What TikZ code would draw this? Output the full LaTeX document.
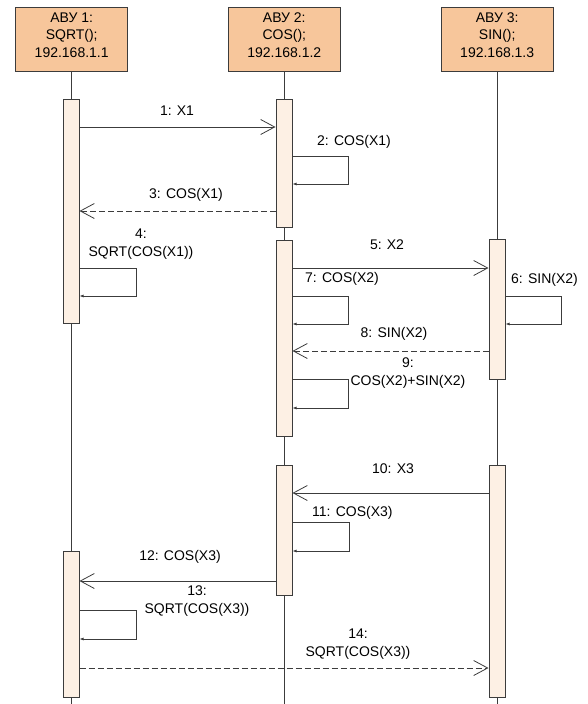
\documentclass[tikz,border=0pt]{standalone}
\usepackage{fontspec}
\setmainfont{Liberation Sans}
\usetikzlibrary{arrows.meta,positioning,calc}
\definecolor{hdrfill}{RGB}{247,198,155}
\definecolor{barfill}{RGB}{253,240,228}
\definecolor{edge}{RGB}{60,60,60}

\begin{document}
\begin{tikzpicture}[x=1pt, y=-1pt,
  font=\fontsize{14}{17.7}\selectfont,
  hdr/.style={draw=edge, line width=1pt, fill=hdrfill, minimum width=112pt, minimum height=64pt, align=center, inner sep=0pt, text depth=8pt},
  bar/.style={draw=edge, line width=1pt, fill=barfill, minimum width=16pt, anchor=north, inner sep=0pt},
  life/.style={edge, line width=0.8pt},
  msg/.style={edge, line width=1pt, -{Straight Barb[length=14pt, width=15pt, line width=0.8pt]}},
  ret/.style={msg, dash pattern=on 6pt off 3pt},
  self/.style={edge, line width=1pt, -{Latex[length=4pt, width=3pt]}},
  lbl/.style={inner sep=0pt, align=center}]
\useasboundingbox (0,0) rectangle (587,704);
% headers
\node[hdr] (h1) at (71.7,39) {АВУ 1:\\SQRT();\\192.168.1.1};
\node[hdr] (h2) at (284.3,39) {АВУ 2:\\COS();\\192.168.1.2};
\node[hdr] (h3) at (497.2,39) {АВУ 3:\\SIN();\\192.168.1.3};
% lifelines
\draw[life] (h1.south) -- (h1.south |- 0,704);
\draw[life] (h2.south) -- (h2.south |- 0,704);
\draw[life] (h3.south) -- (h3.south |- 0,704);
% activations
\node[bar, minimum height=224pt] (b1a) at (71,99) {};
\node[bar, minimum height=146pt] (b1b) at (71,551) {};
\node[bar, minimum height=128pt] (b2a) at (284,99) {};
\node[bar, minimum height=196pt] (b2b) at (284,240) {};
\node[bar, minimum height=130pt] (b2c) at (284,465) {};
\node[bar, minimum height=140pt] (b3a) at (497,239) {};
\node[bar, minimum height=232pt] (b3b) at (497,465) {};
% messages
\draw[msg] (b1a.east |- 0,127) -- (b2a.west |- 0,127);
\node[lbl] (l1) at (177,111) {1: X1};
\draw[self] (b2a.east |- 0,156) -| (348,184) -- (b2a.east |- 0,184);
\node[lbl, anchor=west] (l2) at (317,142) {2: COS(X1)};
\draw[ret] (b2a.west |- 0,211) -- (b1a.east |- 0,211);
\node[lbl] (l3) at (186,195) {3: COS(X1)};
\draw[self] (b1a.east |- 0,268) -| (136,296) -- (b1a.east |- 0,296);
\node[lbl] (l4) at (141,244) {4:\\SQRT(COS(X1))};
\draw[msg] (b2b.east |- 0,268) -- (b3a.west |- 0,268);
\node[lbl] (l5) at (387,245) {5: X2};
\draw[self] (b3a.east |- 0,296) -| (561,324) -- (b3a.east |- 0,324);
\node[lbl, anchor=west] (l6) at (511,280) {6: SIN(X2)};
\draw[self] (b2b.east |- 0,296) -| (348,324) -- (b2b.east |- 0,324);
\node[lbl, anchor=west] (l7) at (305,279) {7: COS(X2)};
\draw[ret] (b3a.west |- 0,351) -- (b2b.east |- 0,351);
\node[lbl] (l8) at (394,334) {8: SIN(X2)};
\draw[self] (b2b.east |- 0,379) -| (348,408) -- (b2b.east |- 0,408);
\node[lbl] (l9) at (408,373) {9:\\COS(X2)+SIN(X2)};
\draw[msg] (b3b.west |- 0,493) -- (b2c.east |- 0,493);
\node[lbl] (l10) at (393,469) {10: X3};
\draw[self] (b2c.east |- 0,522) -| (349,551) -- (b2c.east |- 0,551);
\node[lbl, anchor=west] (l11) at (312,513) {11: COS(X3)};
\draw[msg] (b2c.west |- 0,581) -- (b1b.east |- 0,581);
\node[lbl] (l12) at (180,557) {12: COS(X3)};
\draw[self] (b1b.east |- 0,610) -| (136,639) -- (b1b.east |- 0,639);
\node[lbl] (l13) at (197,601) {13:\\SQRT(COS(X3))};
\draw[ret] (b1b.east |- 0,668) -- (b3b.west |- 0,668);
\node[lbl] (l14) at (358,644) {14:\\SQRT(COS(X3))};
\end{tikzpicture}
\end{document}
